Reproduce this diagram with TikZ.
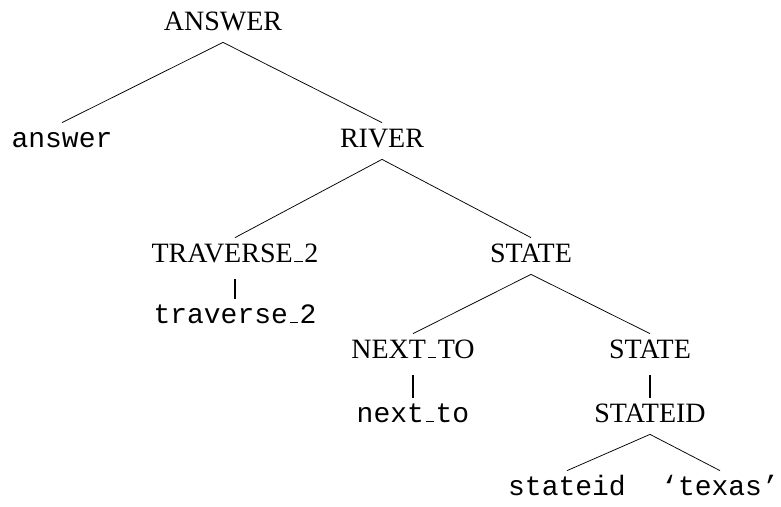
\documentclass[tikz,border=0pt]{standalone}
\usepackage{fontspec}
\setmainfont{Liberation Serif}
\setmonofont{Liberation Mono}
\newcommand{\usc}{\kern.06em\rule{.3em}{1.4pt}\kern.06em}
\begin{document}
\begin{tikzpicture}[x=1pt,y=-1pt,anchor=base,
    every node/.style={font=\fontsize{28}{34}\selectfont,text height=19pt,text depth=7pt,inner ysep=5pt,inner xsep=0pt},
    every path/.style={line width=0.75pt},
    unary/.style={line width=1.1pt,shorten <=5pt}]
    \useasboundingbox (0,0) rectangle (781,506);
    \node at (223,30) (answerNT) {ANSWER};
    \node at (62,147) (answerT) {\texttt{answer}}; \node at (382,147) (river) {RIVER};
    \draw (answerNT.south) -- (answerT.north); \draw (answerNT.south) -- (river.north);
    %% river subtree
    \node at (235,262) (traverseNT) {TRAVERSE\usc2}; \node at (531,262) (state) {STATE};
    \draw (river.south) -- (traverseNT.north); \draw (river.south) -- (state.north);
    \node at (235,323) (traverseT) {\texttt{traverse\usc2}};
    \draw[unary] (traverseNT.south) -- (traverseT.north);
    %% state subtree
    \node at (413,358) (nexttoNT) {NEXT\usc TO}; \node at (650,358) (stateR) {STATE};
    \draw (state.south) -- (nexttoNT.north); \draw (state.south) -- (stateR.north);
    \node at (413,422) (nexttoT) {\texttt{next\usc to}};
    \draw[unary] (nexttoNT.south) -- (nexttoT.north);
    \node at (650,422) (stateid) {STATEID};
    \draw[unary] (stateR.south) -- (stateid.north);
    \node at (567,495) (stateidT) {\texttt{stateid}}; \node at (720,495) (texas) {\texttt{‘texas’}};
    \draw (stateid.south) -- (stateidT.north); \draw (stateid.south) -- (texas.north);
\end{tikzpicture}
\end{document}
